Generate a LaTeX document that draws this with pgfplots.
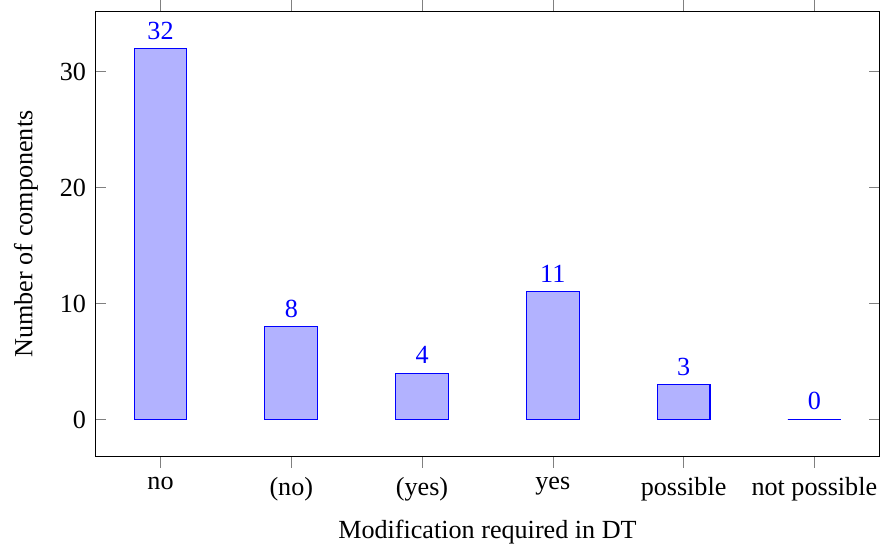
\documentclass[border=0pt]{standalone}
\usepackage{fontspec}
\setmainfont{Liberation Serif}
\usepackage{pgfplots}
\pgfplotsset{compat=1.18}
\begin{document}
\begin{tikzpicture}
\begin{axis}[
  width=300.2pt, height=170.3pt, scale only axis,
  ybar, bar width=20.2pt,
  xmin=-0.5, xmax=5.5,
  ymin=-3.2, ymax=35.2,
  xtick={0,1,2,3,4,5},
  xticklabels={no,(no),(yes),yes,possible,not possible},
  ytick={0,10,20,30},
  /pgf/number format/assume math mode=true,
  xlabel={Modification required in DT},
  ylabel={Number of components},
  ylabel shift=1.5pt,
  xlabel shift=0.4pt,
  nodes near coords,
  every node near coord/.append style={blue},
]
\addplot[draw=blue, fill=blue!30] coordinates {(0,32) (1,8) (2,4) (3,11) (4,3) (5,0)};
\end{axis}
\pgfresetboundingbox
\path[use as bounding box] ([xshift=-2pt]current axis.outer south west) rectangle ([xshift=0.1pt]current axis.east |- current axis.outer north east);
\end{tikzpicture}
\end{document}
